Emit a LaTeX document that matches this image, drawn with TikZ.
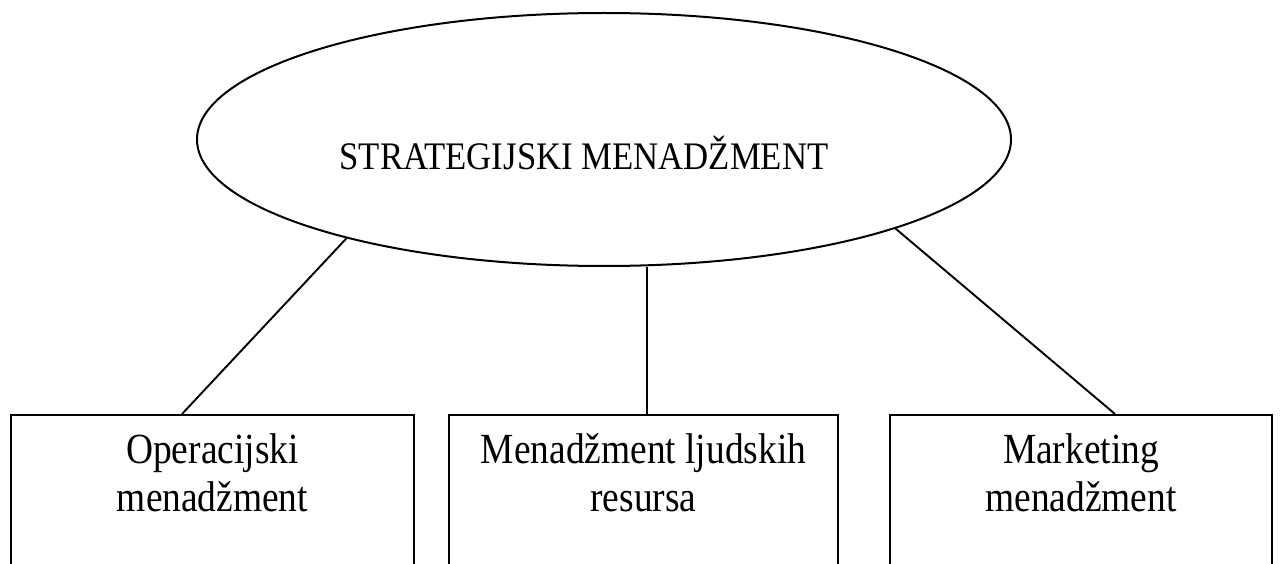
\documentclass[tikz,border=0pt]{standalone}
\usepackage{fontspec}
\setmainfont{Liberation Serif}
\newfontfamily\ellfont{Liberation Serif}[FakeStretch=0.89]
\newfontfamily\boxfont{Liberation Serif}[FakeStretch=0.87]
\usetikzlibrary{shapes.geometric}
\begin{document}
\begin{tikzpicture}[x=1pt,y=-1pt,
  ell/.style={draw, ellipse, inner sep=0pt, line width=2pt},
  boxnode/.style={draw, rectangle, anchor=north, minimum height=200pt, inner sep=0pt, line width=2pt},
  boxtext/.style={anchor=north, align=center, inner sep=0pt, font=\boxfont\fontsize{43}{48}\selectfont},
  elltext/.style={anchor=base, inner sep=0pt, font=\ellfont\fontsize{39}{45}\selectfont},
  conn/.style={draw, line width=1.9pt}
]
\clip (0,0) rectangle (1280,564);
\fill[white] (0,0) rectangle (1280,564);

\node[ell, minimum width=814pt, minimum height=253pt] (sm) at (604,139.5) {};
\node[elltext] (smt) at (584,169.5) {STRATEGIJSKI MENADŽMENT};

\node[boxnode, minimum width=403pt] (b1) at (212.5,414) {};
\node[boxnode, minimum width=389pt] (b2) at (643.5,414) {};
\node[boxnode, minimum width=382pt] (b3) at (1081,414) {};

\node[boxtext] (t1) at (212.5,433) {Operacijski\\menadžment};
\node[boxtext] (t2) at (643.5,433) {Menadžment ljudskih\\resursa};
\node[boxtext] (t3) at (1081,433) {Marketing\\menadžment};

\draw[conn] ([xshift=-30.5pt]b1.north) -- (sm.201.3);
\draw[conn] ([xshift=3.5pt]b2.north) -- ([xshift=3.5pt]b2.north |- sm.south);
\draw[conn] ([xshift=34pt]b3.north) -- (sm.343);
\end{tikzpicture}
\end{document}
